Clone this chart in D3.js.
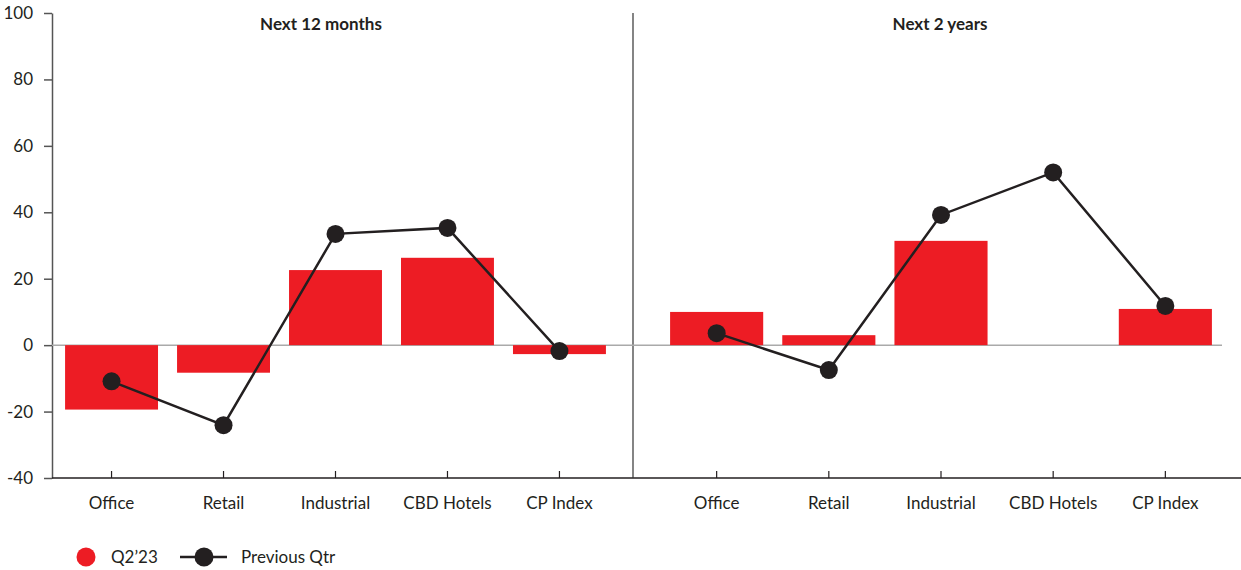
<!DOCTYPE html>
<html lang="en">
<head>
    <meta charset="utf-8">
    <title>Outlook</title>
    <script src="https://d3js.org/d3.v7.min.js" charset="utf-8"></script>
    <style type="text/css">
        body { margin: 0; background: #fff; }
        text { font-family: Lato, "Open Sans", sans-serif; fill: #231f20; }
        .bar { fill: #ED1C24; }
    </style>
</head>
<body>
    <script type="text/javascript">
    // data
    var categories = ["Office", "Retail", "Industrial", "CBD Hotels", "CP Index"];
    var panels = ["Next 12 months", "Next 2 years"];
    var current12m = [-19.4, -8.3, 22.6, 26.3, -2.7];
    var previous12m = [-10.9, -24.1, 33.5, 35.3, -1.8];
    var current2y = [10.0, 3.0, 31.4, 0, 10.9];
    var previous2y = [3.6, -7.5, 39.2, 52.0, 11.8];
    var yTicks = [-40, -20, 0, 20, 40, 60, 80, 100];
    var legendLabels = ["Q2\u201923", "Previous Qtr"];

    var width = 1241, height = 570;
    var plot = { left: 52, right: 1222, top: 13, bottom: 478, divider: 633 };
    var fontSize = 17;

    var svg = d3.select("body").append("svg")
        .attr("width", width)
        .attr("height", height);

    var y = d3.scaleLinear().domain([-40, 100]).range([plot.bottom, plot.top]);

    var xs = [
        d3.scaleBand().domain(categories).range([55, 616]).paddingInner(0.17).paddingOuter(0.09),
        d3.scaleBand().domain(categories).range([660, 1222]).paddingInner(0.17).paddingOuter(0.09)
    ];
    var series = [
        { cur: current12m, prev: previous12m, titleX: 321 },
        { cur: current2y, prev: previous2y, titleX: 940 }
    ];

    // y axis
    var yAxis = svg.append("g")
        .attr("transform", "translate(" + plot.left + ",0)")
        .call(d3.axisLeft(y).tickValues(yTicks).tickSize(8).tickPadding(11)
            .tickSizeOuter(0).tickFormat(function (d) { return String(d); }));
    yAxis.select(".domain").attr("stroke", "#555").attr("stroke-width", 1.5);
    yAxis.selectAll(".tick line").attr("stroke", "#555").attr("stroke-width", 1.5);
    yAxis.selectAll(".tick text").attr("font-size", fontSize + "px").attr("fill", "#231f20")
        .style("font-family", "Lato, sans-serif");

    // bottom axis line
    svg.append("line")
        .attr("x1", plot.left).attr("x2", width)
        .attr("y1", plot.bottom).attr("y2", plot.bottom)
        .attr("stroke", "#231f20").attr("stroke-width", 1.5);

    // divider
    svg.append("line")
        .attr("x1", plot.divider).attr("x2", plot.divider)
        .attr("y1", plot.top).attr("y2", plot.bottom)
        .attr("stroke", "#333").attr("stroke-width", 1.2);

    // zero line
    svg.append("line")
        .attr("x1", plot.left).attr("x2", plot.right)
        .attr("y1", y(0)).attr("y2", y(0))
        .attr("stroke", "#aaa").attr("stroke-width", 1.5);

    series.forEach(function (s, i) {
        var x = xs[i];
        var g = svg.append("g");

        g.selectAll("rect")
            .data(categories.map(function (c, j) { return { c: c, v: s.cur[j] }; }))
            .enter()
            .append("rect")
            .attr("class", "bar")
            .attr("x", function (d) { return x(d.c); })
            .attr("width", x.bandwidth())
            .attr("y", function (d) { return y(Math.max(0, d.v)); })
            .attr("height", function (d) { return Math.abs(y(d.v) - y(0)); });

        // x ticks and labels
        var xAxis = g.append("g")
            .attr("transform", "translate(0," + plot.bottom + ")")
            .call(d3.axisTop(x).tickSize(7).tickSizeOuter(0).tickFormat(""));
        xAxis.select(".domain").remove();
        xAxis.selectAll(".tick line").attr("stroke", "#231f20").attr("stroke-width", 1.2);

        g.selectAll(".xlabel")
            .data(categories)
            .enter()
            .append("text")
            .attr("class", "xlabel")
            .attr("x", function (d) { return x(d) + x.bandwidth() / 2; })
            .attr("y", plot.bottom + 31)
            .attr("text-anchor", "middle")
            .attr("font-size", fontSize + "px")
            .text(function (d) { return d; });

        var pts = categories.map(function (c, j) { return [x(c) + x.bandwidth() / 2, y(s.prev[j])]; });
        g.append("path")
            .attr("d", d3.line()(pts))
            .attr("fill", "none")
            .attr("stroke", "#231f20")
            .attr("stroke-width", 2.5);
        g.selectAll("circle")
            .data(pts)
            .enter()
            .append("circle")
            .attr("cx", function (d) { return d[0]; })
            .attr("cy", function (d) { return d[1]; })
            .attr("r", 9)
            .attr("fill", "#231f20");

        g.append("text")
            .attr("x", s.titleX)
            .attr("y", 30)
            .attr("text-anchor", "middle")
            .attr("font-size", "17px")
            .attr("font-weight", "bold")
            .text(panels[i]);
    });

    // legend
    var lg = svg.append("g");
    lg.append("circle").attr("cx", 86).attr("cy", 557).attr("r", 9.5).attr("fill", "#ED1C24");
    lg.append("text").attr("x", 111).attr("y", 563).attr("font-size", fontSize + "px").text(legendLabels[0]);
    lg.append("line").attr("x1", 180).attr("x2", 227).attr("y1", 557).attr("y2", 557)
        .attr("stroke", "#231f20").attr("stroke-width", 2.5);
    lg.append("circle").attr("cx", 204).attr("cy", 557).attr("r", 9.5).attr("fill", "#231f20");
    lg.append("text").attr("x", 241).attr("y", 563).attr("font-size", fontSize + "px").text(legendLabels[1]);
    </script>
</body>
</html>
